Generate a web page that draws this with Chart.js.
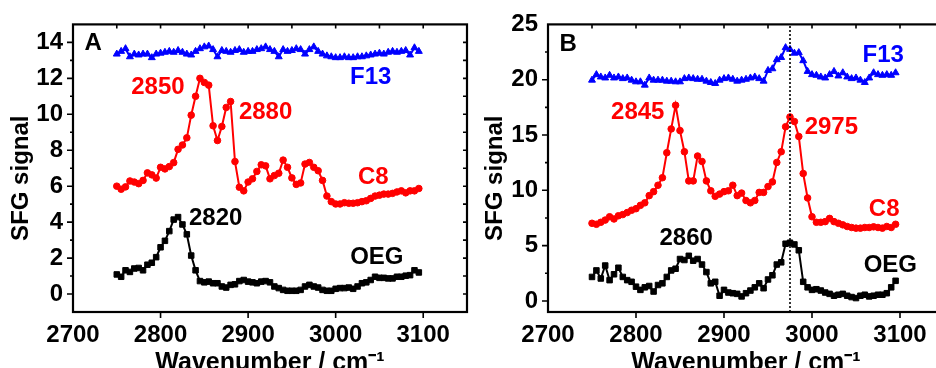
<!DOCTYPE html>
<html>
<head>
<meta charset="utf-8">
<script src="https://cdn.jsdelivr.net/npm/chart.js@4.4.0/dist/chart.umd.min.js"></script>
<style>
  html, body { margin: 0; padding: 0; background: #fff; width: 936px; height: 368px; overflow: hidden; }
  #panelA { position: absolute; left: 0; top: 0; }
  #panelB { position: absolute; left: 472px; top: 0; }
</style>
</head>
<body>
<canvas id="panelA" width="472" height="376"></canvas>
<canvas id="panelB" width="480" height="376"></canvas>
<script>
// wavenumber grid of the spectra (cm-1)
const wavenumbers = [
  2750, 2755, 2760, 2765, 2770, 2775, 2780, 2785, 2790, 2795,
  2800, 2805, 2810, 2815, 2820, 2825, 2830, 2835, 2840, 2845,
  2850, 2855, 2860, 2865, 2870, 2875, 2880, 2885, 2890, 2895,
  2900, 2905, 2910, 2915, 2920, 2925, 2930, 2935, 2940, 2945,
  2950, 2955, 2960, 2965, 2970, 2975, 2980, 2985, 2990, 2995,
  3000, 3005, 3010, 3015, 3020, 3025, 3030, 3035, 3040, 3045,
  3050, 3055, 3060, 3065, 3070, 3075, 3080, 3085, 3090, 3095
];

// panel A
const aF13 = [
  13.35, 13.5, 13.65, 13.2, 13.35, 13.3, 13.35, 13.35, 13.15, 13.35,
  13.4, 13.45, 13.5, 13.45, 13.55, 13.45, 13.35, 13.3, 13.5, 13.65,
  13.75, 13.8, 13.6, 13.2, 13.55, 13.5, 13.45, 13.55, 13.6, 13.45,
  13.5, 13.5, 13.6, 13.65, 13.75, 13.6, 13.5, 13.2, 13.6, 13.5,
  13.55, 13.65, 13.6, 13.35, 13.6, 13.75, 13.5, 13.35, 13.25, 13.2,
  13.15, 13.15, 13.2, 13.15, 13.15, 13.2, 13.2, 13.25, 13.3, 13.35,
  13.4, 13.35, 13.45, 13.5, 13.45, 13.5, 13.55, 13.3, 13.7, 13.5
];
const aC8 = [
  6.0, 5.83, 5.96, 6.29, 6.23, 6.14, 6.32, 6.74, 6.63, 6.45,
  7.05, 6.96, 7.09, 7.31, 8.05, 8.29, 8.69, 9.95, 11.0, 12.0,
  11.77, 11.62, 9.36, 8.54, 9.32, 10.38, 10.71, 7.37, 5.94, 5.74,
  6.23, 6.41, 6.82, 7.19, 7.13, 6.41, 6.59, 6.72, 7.45, 7.05,
  6.46, 6.10, 6.18, 7.23, 7.32, 7.05, 6.86, 6.32, 5.45, 5.14,
  5.01, 5.01, 5.08, 5.05, 5.05, 5.08, 5.14, 5.19, 5.32, 5.45,
  5.5, 5.56, 5.56, 5.6, 5.68, 5.74, 5.63, 5.74, 5.74, 5.87
];
const aOEG = [
  1.09, 0.96, 1.32, 1.23, 1.42, 1.45, 1.32, 1.63, 1.74, 2.05,
  2.6, 2.96, 3.5, 4.14, 4.28, 3.87, 3.32, 2.14, 1.32, 0.72,
  0.65, 0.69, 0.6, 0.6, 0.42, 0.36, 0.51, 0.54, 0.72, 0.78,
  0.69, 0.65, 0.6, 0.69, 0.72, 0.65, 0.42, 0.33, 0.23, 0.18,
  0.18, 0.18, 0.23, 0.42, 0.51, 0.42, 0.36, 0.23, 0.18, 0.18,
  0.29, 0.33, 0.33, 0.36, 0.29, 0.42, 0.6, 0.65, 0.78, 0.96,
  0.9, 0.9, 0.87, 0.87, 0.96, 0.96, 1.02, 1.05, 1.32, 1.2
];
const aYTicks = [0, 2, 4, 6, 8, 10, 12, 14];

// panel B
const bF13 = [
  19.96, 20.46, 20.25, 20.16, 20.4, 20.16, 20.25, 20.1, 20.16, 19.96,
  19.81, 19.81, 19.51, 20.16, 19.96, 19.96, 19.96, 19.87, 19.87, 19.81,
  19.81, 20.1, 20.16, 20.1, 20.04, 20.04, 19.87, 19.75, 19.66, 19.96,
  20.1, 20.16, 20.04, 19.87, 19.96, 20.04, 20.16, 20.25, 20.1, 19.87,
  20.84, 20.99, 21.81, 22.01, 22.9, 22.75, 22.4, 22.45, 21.72, 20.75,
  20.46, 20.4, 20.25, 20.16, 20.46, 20.75, 20.34, 20.63, 20.25, 20.1,
  20.16, 19.96, 19.75, 20.16, 20.63, 20.46, 20.4, 20.46, 20.4, 20.63
];
const bC8 = [
  7.02, 6.93, 7.11, 7.31, 7.61, 7.41, 7.70, 7.81, 7.99, 8.2,
  8.34, 8.64, 8.87, 9.52, 9.88, 10.46, 11.14, 13.4, 15.55, 17.69,
  15.4, 13.49, 10.85, 10.85, 13.1, 12.61, 10.85, 9.96, 9.46, 9.66,
  9.88, 9.96, 10.46, 9.52, 9.75, 9.08, 8.87, 9.08, 9.81, 9.81,
  10.34, 10.76, 12.52, 13.49, 15.75, 16.63, 16.22, 14.87, 11.52, 9.31,
  7.61, 7.11, 7.11, 7.17, 7.46, 7.17, 7.02, 6.88, 6.73, 6.64,
  6.58, 6.58, 6.64, 6.64, 6.7, 6.64, 6.58, 6.73, 6.64, 6.93
];
const bOEG = [
  2.17, 2.76, 2.03, 3.2, 1.88, 2.41, 3.0, 2.17, 1.88, 1.73,
  1.29, 1.0, 1.23, 1.35, 0.85, 1.44, 1.59, 2.17, 2.76, 2.91,
  3.79, 3.7, 4.08, 3.64, 3.79, 3.29, 2.61, 1.59, 1.73, 0.47,
  1.0, 0.76, 0.7, 0.64, 0.41, 0.7, 0.94, 1.23, 1.59, 1.15,
  1.94, 2.32, 3.29, 3.49, 5.17, 5.26, 5.11, 4.58, 1.73, 1.23,
  1.0, 1.06, 0.94, 0.76, 0.64, 0.47, 0.56, 0.64, 0.47, 0.35,
  0.26, 0.47, 0.56, 0.41, 0.47, 0.56, 0.56, 0.7, 1.23, 1.82
];
const bYTicks = [0, 5, 10, 15, 20, 25];
const bMarker = 2975;   // dotted line in panel B

const xTicks = [2700, 2800, 2900, 3000, 3100];

const FONT = '"Liberation Sans", Arial, sans-serif';
const RED = '#ff0000', BLUE = '#0000ff', BLACK = '#000000';

const pts = (vals) => vals.map((v, i) => ({ x: wavenumbers[i], y: v }));

function series(vals, color, style, radius) {
  return {
    data: pts(vals),
    borderColor: color,
    backgroundColor: color,
    borderWidth: 2,
    pointStyle: style,
    pointRadius: radius,
    pointBorderWidth: 1,
    tension: 0,
  };
}

// frame plus tick marks (outward on left/bottom, inward on top/right)
const frameTicks = {
  id: 'frameTicks',
  afterDraw(chart, args, opts) {
    const { ctx, chartArea: a, scales: { x, y } } = chart;
    ctx.save();
    ctx.strokeStyle = BLACK;
    ctx.lineWidth = 1.6;
    ctx.beginPath();
    for (let v = x.min + opts.xMinor; v < x.max; v += opts.xMinor) {
      const px = x.getPixelForValue(v);
      if (v % opts.xMajor === 0) { ctx.moveTo(px, a.bottom); ctx.lineTo(px, a.bottom + 6); }
      ctx.moveTo(px, a.top); ctx.lineTo(px, a.top + 4);
    }
    for (let v = 0; v < y.max; v += opts.yMinor) {
      const py = y.getPixelForValue(v);
      const major = Math.abs(v / opts.yMajor - Math.round(v / opts.yMajor)) < 1e-6;
      ctx.moveTo(a.left, py); ctx.lineTo(a.left - (major ? 6 : 3), py);
    }
    for (let v = 0; v < y.max; v += opts.yInner) {
      const py = y.getPixelForValue(v);
      ctx.moveTo(a.right, py); ctx.lineTo(a.right - 4, py);
    }
    ctx.stroke();
    ctx.lineWidth = 2.2;
    ctx.strokeRect(a.left, a.top, a.right - a.left, a.bottom - a.top);
    ctx.restore();
  }
};

// peak labels, series names and panel letters
const peakLabels = {
  id: 'peakLabels',
  afterDatasetsDraw(chart, args, opts) {
    const { ctx, scales: { x, y } } = chart;
    ctx.save();
    ctx.font = 'bold 24px ' + FONT;
    ctx.textAlign = 'center';
    ctx.textBaseline = 'middle';
    opts.items.forEach(t => {
      ctx.fillStyle = t.color;
      ctx.fillText(t.text, x.getPixelForValue(t.x), y.getPixelForValue(t.y));
    });
    ctx.restore();
  }
};

function makePanel(id, datasets, yRange, yTicks, yWidth, padRight, titlePad, ticksOpts, labels) {
  const config = {
    type: 'line',
    data: { datasets },
    options: {
      responsive: false,
      animation: false,
      layout: { padding: { top: 18, right: padRight, left: 0, bottom: 0 } },
      plugins: {
        legend: { display: false },
        tooltip: { enabled: false },
        frameTicks: ticksOpts,
        peakLabels: { items: labels },
      },
      scales: {
        x: {
          type: 'linear',
          min: 2700,
          max: 3150,
          grid: { display: false, drawTicks: false },
          border: { display: false },
          afterBuildTicks: (s) => { s.ticks = xTicks.map(v => ({ value: v })); },
          afterFit: (s) => { s.height = 64; },
          ticks: {
            color: BLACK, padding: 9, maxRotation: 0,
            callback: (v) => String(v),
            font: { family: FONT, size: 24, weight: 'bold' },
          },
          title: {
            display: true,
            text: 'Wavenumber / cm\u207B\u00B9',
            color: BLACK,
            padding: { top: 0, bottom: -2 },
            font: { family: FONT, size: 25, weight: 'bold' },
          },
        },
        y: {
          min: yRange[0],
          max: yRange[1],
          grid: { display: false, drawTicks: false },
          border: { display: false },
          afterBuildTicks: (s) => { s.ticks = yTicks.map(v => ({ value: v })); },
          afterFit: (s) => { s.width = yWidth; },
          ticks: {
            color: BLACK, padding: 10,
            callback: (v) => String(v),
            font: { family: FONT, size: 24, weight: 'bold' },
          },
          title: {
            display: true,
            text: 'SFG signal\u00a0\u00a0\u00a0',
            color: BLACK,
            padding: { top: titlePad, bottom: 0 },
            font: { family: FONT, size: 24, weight: 'bold' },
          },
        },
      },
    },
    plugins: [frameTicks, peakLabels],
  };
  return new Chart(document.getElementById(id).getContext('2d'), config);
}

makePanel('panelA', [
  series(aF13, BLUE, 'triangle', 4),
  series(aC8, RED, 'circle', 3.3),
  series(aOEG, BLACK, 'rect', 3.9),
], [-1, 15], aYTicks, 73, 2, 7,
  { xMajor: 100, xMinor: 50, yMajor: 2, yMinor: 1, yInner: 1 },
  [
    { text: 'A', x: 2723, y: 13.97, color: BLACK },
    { text: 'F13', x: 3040, y: 12.05, color: BLUE },
    { text: '2850', x: 2797, y: 11.47, color: RED },
    { text: '2880', x: 2920, y: 10.1, color: RED },
    { text: 'C8', x: 3043, y: 6.5, color: RED },
    { text: '2820', x: 2863, y: 4.21, color: BLACK },
    { text: 'OEG', x: 3047, y: 2.03, color: BLACK },
  ]);

makePanel('panelB', [
  {
    data: [{ x: bMarker, y: -1 }, { x: bMarker, y: 25 }],
    borderColor: BLACK,
    borderWidth: 1.6,
    borderDash: [2, 2],
    pointRadius: 0,
  },
  series(bF13, BLUE, 'triangle', 4),
  series(bC8, RED, 'circle', 3.3),
  series(bOEG, BLACK, 'rect', 3.9),
], [-1, 25], bYTicks, 76, 8, 9,
  { xMajor: 100, xMinor: 50, yMajor: 5, yMinor: 2.5, yInner: 2.5 },
  [
    { text: 'B', x: 2723, y: 23.2, color: BLACK },
    { text: 'F13', x: 3081, y: 22.16, color: BLUE },
    { text: '2845', x: 2802, y: 17.05, color: RED },
    { text: '2975', x: 3022, y: 15.72, color: RED },
    { text: 'C8', x: 3082, y: 8.32, color: RED },
    { text: '2860', x: 2857, y: 5.67, color: BLACK },
    { text: 'OEG', x: 3089, y: 3.2, color: BLACK },
  ]);
</script>
</body>
</html>
